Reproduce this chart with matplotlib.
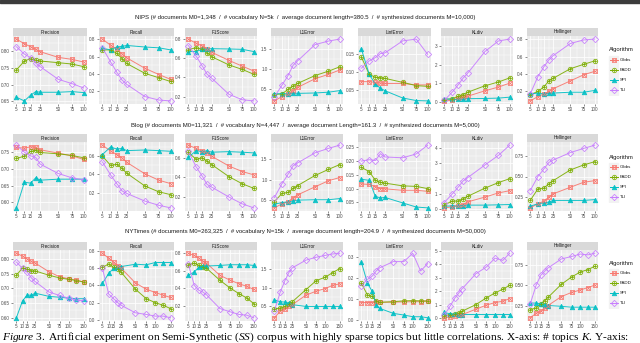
import matplotlib
matplotlib.use('Agg')
import matplotlib.pyplot as plt
from matplotlib.patches import Rectangle
import numpy as np

plt.rcParams['font.family'] = ['Liberation Sans', 'DejaVu Sans']
plt.rcParams['mathtext.fontset'] = 'custom'
plt.rcParams['mathtext.rm'] = 'Liberation Serif'
plt.rcParams['mathtext.it'] = 'Liberation Serif:italic'

# ---- data ----
x_small = [5, 10, 15, 20, 25, 50, 75, 100]
x_large = [5, 10, 15, 20, 25, 50, 75, 100, 125, 150]
xticks_small = [5, 10, 15, 25, 50, 75, 100]
xticks_large = [5, 10, 15, 25, 50, 75, 100, 150]

algorithms = ['Gibbs', 'PADD', 'SPI', 'TLI']
metrics = ['Precision', 'Recall', 'F1Score', 'L1Error', 'LinfError', 'KLdiv', 'Hellinger']

nips_title = ("NIPS (# documents M0=1,348  /  # vocabulary N=5k  /  average document "
              "length=380.5  /  # synthesized documents M=10,000)")
blog_title = ("Blog (# documents M0=11,321  /  # vocabulary N=4,447  /  average document "
              "Length=161.3  /  # synthesized documents M=5,000)")
nyt_title = ("NYTimes (# documents M0=263,325  /  # vocabulary N=15k  /  average document "
             "length=204.9  /  # synthesized documents M=50,000)")

# NIPS
nips_precision = {
    'Gibbs': [0.837, 0.823, 0.814, 0.806, 0.799, 0.782, 0.776, 0.768],
    'PADD': [0.744, 0.771, 0.778, 0.774, 0.771, 0.766, 0.762, 0.754],
    'SPI': [0.662, 0.651, 0.668, 0.679, 0.677, 0.677, 0.679, 0.676],
    'TLI': [0.814, 0.792, 0.781, 0.765, 0.754, 0.716, 0.703, 0.690]}
nips_recall = {
    'Gibbs': [0.80, 0.73, 0.684, 0.63, 0.585, 0.465, 0.393, 0.338],
    'PADD': [0.676, 0.676, 0.636, 0.575, 0.52, 0.407, 0.356, 0.313],
    'SPI': [0.695, 0.676, 0.71, 0.716, 0.727, 0.709, 0.70, 0.676],
    'TLI': [0.70, 0.54, 0.42, 0.33, 0.28, 0.14, 0.10, 0.09]}
nips_f1 = {
    'Gibbs': [0.80, 0.757, 0.73, 0.70, 0.663, 0.577, 0.517, 0.467],
    'PADD': [0.69, 0.71, 0.697, 0.657, 0.617, 0.53, 0.483, 0.433],
    'SPI': [0.67, 0.67, 0.693, 0.697, 0.70, 0.697, 0.693, 0.67],
    'TLI': [0.733, 0.623, 0.523, 0.433, 0.393, 0.223, 0.167, 0.155]}
nips_l1 = {
    'Gibbs': [0.20, 0.31, 0.38, 0.46, 0.54, 0.76, 0.87, 0.98],
    'PADD': [0.36, 0.38, 0.49, 0.58, 0.64, 0.84, 0.95, 1.06],
    'SPI': [0.38, 0.38, 0.38, 0.40, 0.39, 0.40, 0.42, 0.46],
    'TLI': [0.30, 0.60, 0.84, 1.10, 1.21, 1.62, 1.71, 1.76]}
nips_linf = {
    'Gibbs': [0.073, 0.073, 0.071, 0.069, 0.068, 0.068, 0.064, 0.064],
    'PADD': [0.141, 0.093, 0.085, 0.084, 0.082, 0.071, 0.062, 0.060],
    'SPI': [0.163, 0.093, 0.066, 0.055, 0.048, 0.028, 0.021, 0.020],
    'TLI': [0.110, 0.130, 0.139, 0.150, 0.152, 0.185, 0.190, 0.148]}
nips_kl = {
    'Gibbs': [0.07, 0.10, 0.22, 0.27, 0.32, 0.61, 0.81, 1.02],
    'PADD': [0.14, 0.19, 0.31, 0.41, 0.53, 0.88, 1.08, 1.30],
    'SPI': [0.19, 0.15, 0.15, 0.17, 0.19, 0.20, 0.22, 0.27],
    'TLI': [0.10, 0.53, 0.92, 1.29, 1.54, 2.71, 3.27, 3.37]}
nips_hell = {
    'Gibbs': [0.09, 0.14, 0.17, 0.20, 0.23, 0.32, 0.39, 0.43],
    'PADD': [0.16, 0.20, 0.25, 0.32, 0.35, 0.46, 0.51, 0.55],
    'SPI': [0.17, 0.18, 0.17, 0.18, 0.18, 0.19, 0.19, 0.21],
    'TLI': [0.17, 0.37, 0.48, 0.56, 0.61, 0.75, 0.79, 0.80]}

# Blog
blog_precision = {
    'Gibbs': [0.764, 0.762, 0.766, 0.764, 0.757, 0.747, 0.739, 0.728],
    'PADD': [0.731, 0.738, 0.752, 0.755, 0.749, 0.745, 0.740, 0.733],
    'SPI': [0.583, 0.660, 0.657, 0.673, 0.666, 0.669, 0.669, 0.669],
    'TLI': [0.771, 0.750, 0.739, 0.734, 0.714, 0.686, 0.673, 0.667]}
blog_recall = {
    'Gibbs': [0.72, 0.656, 0.617, 0.58, 0.533, 0.407, 0.337, 0.30],
    'PADD': [0.60, 0.50, 0.51, 0.466, 0.414, 0.274, 0.21, 0.18],
    'SPI': [0.617, 0.70, 0.677, 0.684, 0.66, 0.667, 0.66, 0.653],
    'TLI': [0.537, 0.396, 0.30, 0.22, 0.193, 0.109, 0.063, 0.035]}
blog_f1 = {
    'Gibbs': [0.728, 0.695, 0.669, 0.649, 0.616, 0.515, 0.459, 0.426],
    'PADD': [0.656, 0.584, 0.60, 0.564, 0.531, 0.407, 0.334, 0.289],
    'SPI': [0.603, 0.672, 0.662, 0.672, 0.656, 0.662, 0.656, 0.649],
    'TLI': [0.669, 0.508, 0.416, 0.328, 0.302, 0.20, 0.13, 0.09]}
blog_l1 = {
    'Gibbs': [0.30, 0.40, 0.45, 0.55, 0.62, 0.82, 0.97, 1.05],
    'PADD': [0.45, 0.66, 0.68, 0.78, 0.85, 1.10, 1.25, 1.37],
    'SPI': [0.39, 0.43, 0.45, 0.47, 0.49, 0.50, 0.50, 0.53],
    'TLI': [0.55, 0.90, 1.13, 1.34, 1.41, 1.66, 1.77, 1.85]}
blog_linf = {
    'Gibbs': [0.117, 0.115, 0.107, 0.100, 0.099, 0.094, 0.094, 0.090],
    'PADD': [0.177, 0.162, 0.130, 0.123, 0.120, 0.110, 0.108, 0.100],
    'SPI': [0.134, 0.130, 0.072, 0.066, 0.068, 0.048, 0.033, 0.030],
    'TLI': [0.200, 0.205, 0.202, 0.227, 0.215, 0.212, 0.226, 0.258]}
blog_kl = {
    'Gibbs': [0.08, 0.15, 0.21, 0.30, 0.47, 0.79, 1.06, 1.21],
    'PADD': [0.26, 0.53, 0.53, 0.68, 0.83, 1.38, 1.74, 2.00],
    'SPI': [0.19, 0.21, 0.21, 0.23, 0.26, 0.26, 0.28, 0.30],
    'TLI': [0.43, 0.98, 1.43, 1.85, 2.06, 2.90, 3.53, 4.20]}
blog_hell = {
    'Gibbs': [0.12, 0.17, 0.20, 0.25, 0.29, 0.37, 0.43, 0.45],
    'PADD': [0.21, 0.35, 0.36, 0.41, 0.45, 0.58, 0.64, 0.68],
    'SPI': [0.14, 0.17, 0.18, 0.19, 0.21, 0.21, 0.21, 0.22],
    'TLI': [0.33, 0.50, 0.59, 0.67, 0.70, 0.79, 0.84, 0.88]}

# NYTimes
nyt_precision = {
    'Gibbs': [0.820, 0.810, 0.800, 0.792, 0.787, 0.757, 0.740, 0.733, 0.728, 0.722],
    'PADD': [0.745, 0.770, 0.766, 0.760, 0.760, 0.745, 0.736, 0.731, 0.727, 0.722],
    'SPI': [0.600, 0.658, 0.678, 0.676, 0.684, 0.673, 0.670, 0.667, 0.665, 0.665],
    'TLI': [0.790, 0.768, 0.755, 0.736, 0.724, 0.688, 0.676, 0.667, 0.660, 0.658]}
nyt_recall = {
    'Gibbs': [0.775, 0.716, 0.67, 0.63, 0.60, 0.43, 0.357, 0.318, 0.286, 0.26],
    'PADD': [0.61, 0.65, 0.61, 0.59, 0.553, 0.357, 0.247, 0.20, 0.169, 0.13],
    'SPI': [0.424, 0.54, 0.60, 0.61, 0.62, 0.647, 0.64, 0.667, 0.667, 0.667],
    'TLI': [0.60, 0.30, 0.247, 0.20, 0.169, 0.082, 0.063, 0.043, 0.043, 0.024]}
nyt_f1 = {
    'Gibbs': [0.80, 0.774, 0.743, 0.706, 0.687, 0.547, 0.49, 0.45, 0.42, 0.385],
    'PADD': [0.668, 0.687, 0.66, 0.642, 0.63, 0.49, 0.40, 0.336, 0.287, 0.223],
    'SPI': [0.547, 0.585, 0.642, 0.653, 0.653, 0.66, 0.668, 0.668, 0.668, 0.66],
    'TLI': [0.68, 0.43, 0.374, 0.355, 0.325, 0.166, 0.128, 0.098, 0.09, 0.06]}
nyt_l1 = {
    'Gibbs': [0.17, 0.35, 0.41, 0.48, 0.53, 0.79, 0.90, 0.97, 1.06, 1.10],
    'PADD': [0.41, 0.44, 0.48, 0.54, 0.61, 0.94, 1.19, 1.28, 1.41, 1.52],
    'SPI': [0.66, 0.61, 0.60, 0.57, 0.53, 0.48, 0.48, 0.48, 0.48, 0.48],
    'TLI': [0.35, 0.88, 1.19, 1.41, 1.54, 1.75, 1.83, 1.88, 1.92, 1.94]}
nyt_linf = {
    'Gibbs': [0.084, 0.084, 0.084, 0.085, 0.085, 0.086, 0.087, 0.088, 0.088, 0.090],
    'PADD': [0.177, 0.120, 0.113, 0.092, 0.085, 0.088, 0.092, 0.093, 0.092, 0.092],
    'SPI': [0.278, 0.177, 0.137, 0.072, 0.056, 0.032, 0.024, 0.016, 0.016, 0.011],
    'TLI': [0.165, 0.195, 0.210, 0.235, 0.250, 0.280, 0.280, 0.320, 0.235, 0.270]}
nyt_kl = {
    'Gibbs': [0.05, 0.12, 0.17, 0.24, 0.29, 0.68, 0.98, 1.17, 1.27, 1.46],
    'PADD': [0.20, 0.29, 0.32, 0.41, 0.54, 1.02, 1.51, 1.88, 2.15, 2.44],
    'SPI': [0.44, 0.34, 0.32, 0.29, 0.29, 0.29, 0.29, 0.29, 0.29, 0.29],
    'TLI': [0.24, 0.93, 1.51, 1.88, 2.20, 3.29, 3.78, 4.44, 4.27, 4.80]}
nyt_hell = {
    'Gibbs': [0.10, 0.155, 0.18, 0.22, 0.25, 0.36, 0.41, 0.44, 0.47, 0.50],
    'PADD': [0.20, 0.22, 0.27, 0.31, 0.35, 0.51, 0.60, 0.66, 0.69, 0.73],
    'SPI': [0.28, 0.28, 0.27, 0.26, 0.25, 0.24, 0.23, 0.23, 0.23, 0.23],
    'TLI': [0.27, 0.50, 0.62, 0.67, 0.71, 0.82, 0.85, 0.88, 0.87, 0.89]}

nips_yticks = [[0.65, 0.70, 0.75, 0.80], [0.2, 0.4, 0.6, 0.8], [0.2, 0.4, 0.6, 0.8],
               [0.5, 1.0, 1.5], [0.05, 0.10, 0.15], [0, 1, 2, 3], [0.2, 0.4, 0.6, 0.8]]
blog_yticks = [[0.60, 0.65, 0.70, 0.75], [0.2, 0.4, 0.6], [0.2, 0.4, 0.6],
               [0.5, 1.0, 1.5], [0.05, 0.10, 0.15, 0.20, 0.25], [0, 1, 2, 3, 4], [0.25, 0.50, 0.75]]
nyt_yticks = [[0.60, 0.65, 0.70, 0.75, 0.80], [0.0, 0.2, 0.4, 0.6, 0.8], [0.2, 0.4, 0.6, 0.8],
              [0.5, 1.0, 1.5], [0.0, 0.1, 0.2, 0.3], [0, 1, 2, 3, 4, 5], [0.25, 0.50, 0.75]]

caption = (r"$\mathit{Figure\ 3.}$ Artificial experiment on Semi-Synthetic ($\mathit{SS}$) corpus "
           r"with highly sparse topics but little correlations. X-axis: # topics $\mathit{K}$. Y-axis:")

# ---- styling ----
colors = {'Gibbs': '#F8766D', 'PADD': '#7CAE00', 'SPI': '#00BFC4', 'TLI': '#C77CFF'}
# (base marker, filled?, overlay marker)
markers = {'Gibbs': ('s', False, 'x'), 'PADD': ('o', False, '+'),
           'SPI': ('^', True, None), 'TLI': ('D', False, None)}

W, H = 640, 343
col_left = [13, 99, 185, 271, 358, 441, 527]
col_right = [87, 174, 257, 343, 431, 513, 598]
strip_top = [28, 134, 242]
panel_bottom = [104, 211, 321]
strip_h = 8
title_y = [18, 125, 231]
legend_y = [50, 157, 263]

rows = [
    (nips_title, x_small, xticks_small, [nips_precision, nips_recall, nips_f1, nips_l1,
                                         nips_linf, nips_kl, nips_hell], nips_yticks),
    (blog_title, x_small, xticks_small, [blog_precision, blog_recall, blog_f1, blog_l1,
                                         blog_linf, blog_kl, blog_hell], blog_yticks),
    (nyt_title, x_large, xticks_large, [nyt_precision, nyt_recall, nyt_f1, nyt_l1,
                                        nyt_linf, nyt_kl, nyt_hell], nyt_yticks),
]


def fmt_ticks(ticks):
    for d in range(4):
        if all(abs(round(t, d) - t) < 1e-9 for t in ticks):
            break
    return [f'{t:.{d}f}' for t in ticks]


def minor_between(ticks):
    step0 = ticks[1] - ticks[0]
    step1 = ticks[-1] - ticks[-2]
    ext = [ticks[0] - step0] + list(ticks) + [ticks[-1] + step1]
    return [(a + b) / 2 for a, b in zip(ext[:-1], ext[1:])]


def draw_series(ax, x, y, name, ms=3.2):
    base, filled, over = markers[name]
    c = colors[name]
    ax.plot(x, y, color=c, lw=0.7, marker=base, ms=ms, mew=0.6,
            mfc=c if filled else 'none', mec=c, alpha=0.9, zorder=3)
    if over:
        ax.plot(x, y, ls='none', marker=over, ms=ms * 0.75, mew=0.5, color=c, zorder=4)


fig = plt.figure(figsize=(W / 100, H / 100), dpi=100)

# dark rule at the top of the page crop
fig.patches.append(Rectangle((0, 1 - 2.5 / H), 1, 2.5 / H, transform=fig.transFigure,
                             color='#3C3C3C', zorder=0))

for r, (title, x, xticks, panels, yticks_row) in enumerate(rows):
    fig.text((col_left[0] + col_right[-1]) / 2 / W, 1 - title_y[r] / H, title,
             ha='center', va='center', fontsize=4.3, color='#1A1A1A')
    for c, metric in enumerate(metrics):
        l = col_left[c] / W
        w = (col_right[c] - col_left[c]) / W
        ptop = strip_top[r] + strip_h
        b = 1 - panel_bottom[r] / H
        h = (panel_bottom[r] - ptop) / H

        sax = fig.add_axes([l, 1 - ptop / H, w, strip_h / H])
        sax.set_facecolor('#D9D9D9')
        sax.set_xticks([])
        sax.set_yticks([])
        for s in sax.spines.values():
            s.set_visible(False)
        sax.text(0.5, 0.5, metric, ha='center', va='center', fontsize=3.3,
                 color='#1A1A1A', transform=sax.transAxes)

        ax = fig.add_axes([l, b, w, h])
        ax.set_facecolor('#EBEBEB')
        ax.set_xscale('function', functions=(np.sqrt, np.square))
        data = panels[c]
        for name in algorithms:
            draw_series(ax, x, data[name], name)

        yt = yticks_row[c]
        ax.set_xticks(xticks)
        ax.set_xticklabels([str(t) for t in xticks])
        ax.set_yticks(yt)
        ax.set_yticklabels(fmt_ticks(yt))
        # minor grid sits halfway between majors in sqrt space, like ggplot
        sx = minor_between([np.sqrt(t) for t in xticks])
        ax.set_xticks([v ** 2 for v in sx if v > 0], minor=True)
        ax.set_yticks(minor_between(yt), minor=True)

        allv = [v for name in algorithms for v in data[name]]
        ymin, ymax = min(allv), max(allv)
        s0, s1 = np.sqrt(min(x)), np.sqrt(max(x))
        ax.set_xlim((s0 - 0.05 * (s1 - s0)) ** 2, (s1 + 0.05 * (s1 - s0)) ** 2)
        ax.set_ylim(ymin - 0.05 * (ymax - ymin), ymax + 0.05 * (ymax - ymin))

        ax.grid(which='major', color='white', lw=0.55)
        ax.grid(which='minor', color='white', lw=0.3)
        ax.set_axisbelow(True)
        for s in ax.spines.values():
            s.set_visible(False)
        ax.tick_params(which='major', length=1.5, width=0.4, color='#333333',
                       labelsize=3.3, labelcolor='#4D4D4D', pad=1)
        ax.tick_params(which='minor', length=0)

    # legend for this row
    ly = legend_y[r]
    lax = fig.add_axes([603 / W, 1 - (ly + 46) / H, 37 / W, 52 / H])
    lax.set_xlim(0, 37)
    lax.set_ylim(52, 0)
    lax.axis('off')
    lax.text(6, 6, 'Algorithm', ha='left', va='center', fontsize=4.2, color='#1A1A1A')
    for i, name in enumerate(algorithms):
        yy = 16 + 10 * i
        lax.add_patch(Rectangle((6, yy - 4.5), 9, 9, color='#F2F2F2', zorder=1))
        lax.plot([6.5, 14.5], [yy, yy], color=colors[name], lw=0.7, zorder=2)
        draw_series(lax, [10.5], [yy], name)
        lax.text(17, yy, name, ha='left', va='center', fontsize=3.2, color='#1A1A1A')

fig.text(2 / W, 1 - 340 / H, caption, ha='left', va='baseline', fontsize=8.2,
         family='Liberation Serif', color='black')

plt.savefig('out.png', dpi=100)
